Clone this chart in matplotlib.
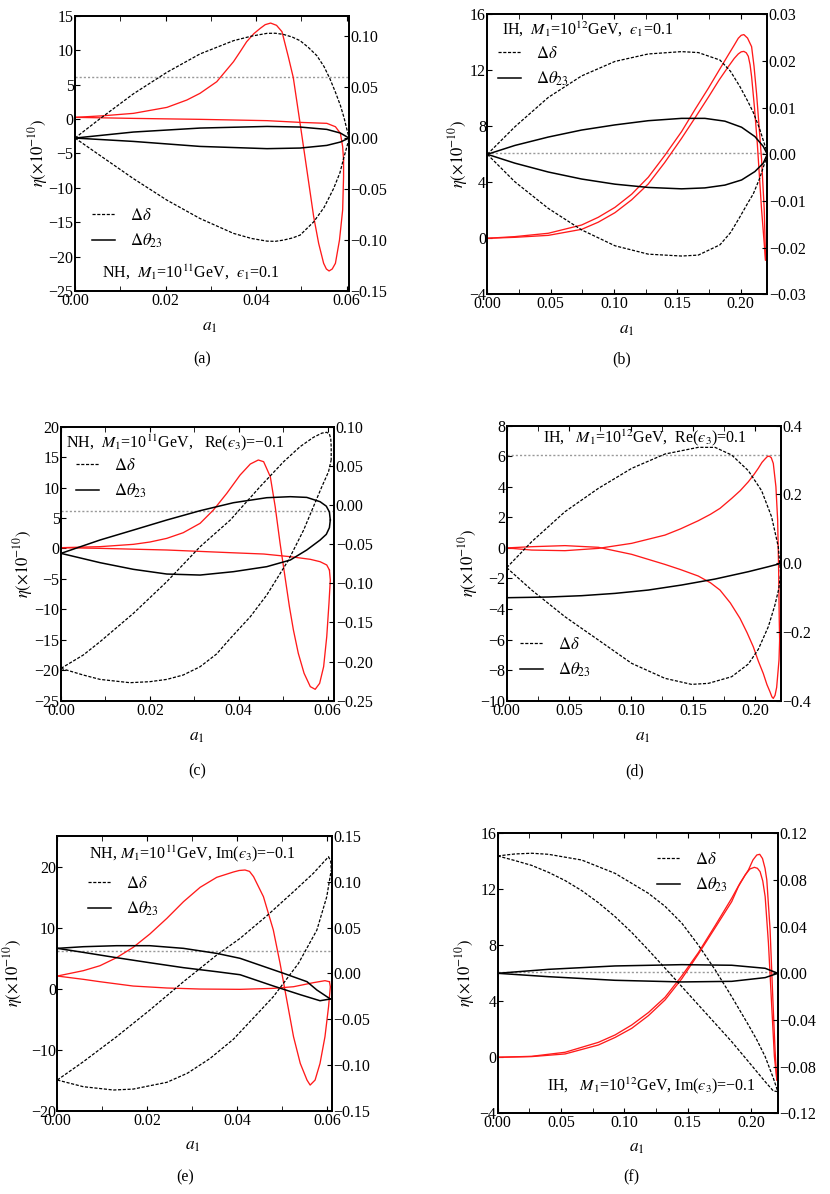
import matplotlib
matplotlib.use('Agg')
import matplotlib.pyplot as plt
from matplotlib.lines import Line2D
from matplotlib.ticker import MultipleLocator, FuncFormatter

plt.rcParams['font.family'] = ['Liberation Serif', 'DejaVu Serif']
plt.rcParams['mathtext.fontset'] = 'stix'

ETA_OBS = 6.1

# ---- (a) NH, M1=1e11 GeV, eps1=0.1 ----
a_red_up_x = [0, 0.0060, 0.0129, 0.0203, 0.0247, 0.0276, 0.0313, 0.0350, 0.0365, 0.0379, 0.0395, 0.0409, 0.0420,
              0.0432, 0.0445, 0.0457, 0.0471, 0.0482, 0.0497, 0.0512, 0.0527, 0.0538, 0.0549, 0.0555, 0.0561,
              0.0568, 0.0575, 0.0584, 0.0591, 0.0593, 0.0593]
a_red_up_y = [0.23, 0.45, 0.81, 1.68, 2.75, 3.72, 5.41, 8.32, 9.8, 11.22, 12.4, 13.16, 13.7,
              13.93, 13.6, 12.68, 9.04, 6.0, -0.64, -7.42, -14.2, -18.08, -20.98, -21.8, -22.09,
              -21.8, -20.98, -17.59, -13.23, -8.39, -5.97]
a_red_lo_x = [0, 0.0129, 0.0276, 0.0424, 0.0497, 0.0556, 0.0575, 0.0586, 0.0591, 0.0593]
a_red_lo_y = [0.23, 0.08, -0.06, -0.25, -0.5, -0.64, -1.13, -2.09, -4.03, -5.97]
a_dd_up_x = [0, 0.0055, 0.0129, 0.0203, 0.0276, 0.0350, 0.0390, 0.0424, 0.0442, 0.0460, 0.0480, 0.0497, 0.0515,
             0.0534, 0.0550, 0.0563, 0.0575, 0.0586, 0.0594, 0.0600, 0.0603, 0.0605]
a_dd_up_y = [0, 0.0189, 0.0434, 0.0645, 0.0825, 0.0955, 0.1000, 0.1027, 0.1028, 0.1017, 0.0990, 0.0955, 0.0890,
             0.0808, 0.0700, 0.058, 0.0450, 0.032, 0.0200, 0.0091, 0.0040, 0]
a_dd_lo_x = [0, 0.0055, 0.0129, 0.0203, 0.0276, 0.0350, 0.0390, 0.0424, 0.0442, 0.0460, 0.0480, 0.0497, 0.0527,
             0.0550, 0.0571, 0.0585, 0.0593, 0.0600, 0.0604, 0.0605]
a_dd_lo_y = [0, -0.0170, -0.0398, -0.0609, -0.0789, -0.0935, -0.0985, -0.1011, -0.1013, -0.1001, -0.0980, -0.0952,
             -0.0822, -0.0680, -0.0495, -0.0340, -0.0202, -0.0090, -0.0023, 0]
a_th_x = [0, 0.0129, 0.0276, 0.0424, 0.0497, 0.0556, 0.0586, 0.0605]
a_th_up_y = [0, 0.0059, 0.0098, 0.0114, 0.0108, 0.0085, 0.0049, 0]
a_th_lo_y = [0, -0.0033, -0.0082, -0.0104, -0.0098, -0.0072, -0.0039, 0]

# ---- (b) IH, M1=1e12 GeV, eps1=0.1 ----
b_red1_x = [0, 0.0218, 0.0482, 0.0745, 0.0876, 0.1008, 0.1140, 0.1271, 0.1400, 0.1534, 0.1640, 0.1745, 0.1830,
            0.1903, 0.1950, 0.1982, 0.2005, 0.2026, 0.2055, 0.2087, 0.2106, 0.2126, 0.2146, 0.2166, 0.2187, 0.2197]
b_red1_y = [0, 0.12, 0.36, 0.95, 1.5, 2.21, 3.15, 4.36, 5.9, 7.62, 9.2, 10.71, 12.0,
            13.10, 13.8, 14.29, 14.5, 14.55, 14.3, 13.69, 12.3, 10.36, 8.0, 5.6, 2.02, -1.55]
b_red2_x = [0, 0.0218, 0.0482, 0.0745, 0.0876, 0.1008, 0.1140, 0.1271, 0.1400, 0.1534, 0.1640, 0.1745, 0.1830,
            0.1903, 0.1950, 0.1982, 0.2005, 0.2026, 0.2045, 0.2061, 0.2075, 0.2087, 0.2110, 0.2132, 0.2166, 0.2197]
b_red2_y = [0, 0.07, 0.21, 0.64, 1.15, 1.83, 2.75, 3.88, 5.4, 7.14, 8.6, 10.07, 11.3,
            12.26, 12.85, 13.17, 13.32, 13.35, 13.25, 13.0, 12.4, 11.55, 9.3, 6.79, 2.02, -1.55]
b_dd_x = [0, 0.0218, 0.0482, 0.0745, 0.1008, 0.1271, 0.1534, 0.1666, 0.1837, 0.1920, 0.1995, 0.2060, 0.2100,
          0.2150, 0.2179, 0.2200, 0.2211]
b_dd_up_y = [0, 0.0059, 0.0122, 0.0168, 0.0199, 0.0215, 0.0220, 0.0218, 0.0202, 0.0178, 0.0145, 0.0112, 0.0090,
             0.0055, 0.0030, 0.0012, 0]
b_dd_lo_y = [0, -0.0059, -0.0116, -0.0162, -0.0196, -0.0214, -0.0218, -0.0216, -0.0194, -0.0168, -0.0134, -0.0103,
             -0.0085, -0.0052, -0.0028, -0.0011, 0]
b_th_x = [0, 0.0218, 0.0482, 0.0745, 0.1008, 0.1271, 0.1534, 0.1718, 0.1876, 0.2008, 0.2113, 0.2179, 0.2211]
b_th_up_y = [0, 0.0019, 0.0037, 0.0052, 0.0063, 0.0072, 0.0077, 0.0077, 0.0071, 0.0058, 0.0038, 0.0017, 0]
b_th_lo_y = [0, -0.0019, -0.0038, -0.0053, -0.0064, -0.0071, -0.0074, -0.0072, -0.0066, -0.0055, -0.0037, -0.0019, 0]

# ---- (c) NH, M1=1e11 GeV, Re(eps3)=-0.1 ----
c_red_up_x = [0, 0.0088, 0.0163, 0.0200, 0.0238, 0.0275, 0.0313, 0.0343, 0.0373, 0.0403, 0.0426, 0.0444, 0.0456,
              0.0471, 0.0482, 0.0493, 0.0504, 0.0514, 0.0523, 0.0534, 0.0547, 0.0561, 0.0572, 0.0582, 0.0591,
              0.0598, 0.0603, 0.0606, 0.0604]
c_red_up_y = [0.13, 0.30, 0.68, 1.06, 1.66, 2.59, 4.13, 6.32, 9.05, 12.06, 13.87, 14.53, 14.25,
              11.79, 6.86, 0.84, -4.63, -9.56, -13.39, -17.22, -20.50, -22.69, -23.13, -22.15, -19.41,
              -14.48, -9.01, -5.18, -3.54]
c_red_lo_x = [0, 0.0088, 0.0238, 0.0381, 0.0456, 0.0516, 0.0561, 0.0583, 0.0598, 0.0604]
c_red_lo_y = [0.13, 0.02, -0.25, -0.69, -0.91, -1.35, -1.78, -2.17, -2.71, -3.54]
c_dd1_x = [0, 0.0050, 0.0088, 0.0163, 0.0238, 0.0313, 0.0381, 0.0448, 0.0501, 0.0538, 0.0568, 0.0587,
           0.0598, 0.0604, 0.0607, 0.0608, 0.0608]
c_dd1_y = [-0.2087, -0.1917, -0.1746, -0.1384, -0.0980, -0.0533, -0.0192, 0.0234, 0.0553, 0.0745, 0.0864, 0.0918,
           0.0928, 0.0905, 0.0850, 0.0745, 0.0574]
c_dd2_x = [0, 0.0050, 0.0088, 0.0155, 0.0200, 0.0238, 0.0275, 0.0313, 0.0350, 0.0381, 0.0426, 0.0463,
           0.0512, 0.0546, 0.0568, 0.0587, 0.0602, 0.0608]
c_dd2_y = [-0.2087, -0.2172, -0.2228, -0.2270, -0.2257, -0.2228, -0.2172, -0.2066, -0.1904, -0.1704, -0.1427, -0.1150,
           -0.0703, -0.0320, -0.0022, 0.0234, 0.0425, 0.0574]
c_th_x = [0, 0.0088, 0.0163, 0.0238, 0.0313, 0.0388, 0.0463, 0.0516, 0.0553, 0.0583, 0.0597, 0.0604, 0.0606]
c_th_up_y = [-0.0618, -0.0447, -0.0320, -0.0192, -0.0073, 0.0029, 0.0093, 0.0106, 0.0097, 0.0042, -0.0015, -0.0090,
             -0.0192]
c_th_lo_y = [-0.0618, -0.0737, -0.0822, -0.0882, -0.0895, -0.0852, -0.0788, -0.0703, -0.0575, -0.0448, -0.0375,
             -0.0290, -0.0192]

# ---- (d) IH, M1=1e12 GeV, Re(eps3)=0.1 ----
d_red1_x = [0, 0.0201, 0.0469, 0.0738, 0.1006, 0.1274, 0.1400, 0.1542, 0.1640, 0.1717, 0.1811, 0.1880, 0.1945,
            0.1990, 0.2025, 0.2055, 0.2079, 0.2098, 0.2114, 0.2130, 0.2146, 0.2167, 0.2181, 0.2189, 0.2194, 0.2197]
d_red1_y = [0, -0.14, -0.18, -0.03, 0.30, 0.84, 1.25, 1.78, 2.2, 2.59, 3.24, 3.75, 4.33,
            4.8, 5.21, 5.6, 5.82, 5.98, 6.01, 5.9, 5.53, 4.01, 1.83, -1.45, -4.72, -6.03]
d_red2_x = [0, 0.0201, 0.0469, 0.0738, 0.1006, 0.1274, 0.1400, 0.1542, 0.1640, 0.1717, 0.1800, 0.1878, 0.1935,
            0.1985, 0.2025, 0.2065, 0.2095, 0.2119, 0.2135, 0.2146, 0.2160, 0.2173, 0.2192, 0.2197]
d_red2_y = [0, 0.08, 0.15, 0.04, -0.42, -1.08, -1.42, -1.84, -2.28, -2.76, -3.6, -4.61, -5.55,
            -6.47, -7.4, -8.21, -8.95, -9.41, -9.75, -9.85, -9.65, -9.13, -7.34, -6.03]
d_dd_up_x = [0, 0.0201, 0.0469, 0.0738, 0.1006, 0.1274, 0.1542, 0.1677, 0.1811, 0.1945, 0.2052, 0.2132, 0.2186, 0.2205]
d_dd_up_y = [-0.0131, 0.0625, 0.1498, 0.2177, 0.2759, 0.3176, 0.3370, 0.3370, 0.3147, 0.2691, 0.2109, 0.1353, 0.0480,
             -0.0296]
d_dd_lo_x = [0, 0.0201, 0.0469, 0.0738, 0.1006, 0.1274, 0.1488, 0.1623, 0.1811, 0.1945, 0.2025, 0.2106, 0.2159,
             0.2191, 0.2205]
d_dd_lo_y = [-0.0131, -0.0781, -0.1557, -0.2235, -0.2914, -0.3350, -0.3525, -0.3496, -0.3302, -0.2933, -0.2507,
             -0.1847, -0.1217, -0.0732, -0.0296]
d_th_x = [0, 0.0335, 0.0604, 0.0872, 0.1140, 0.1408, 0.1677, 0.1945, 0.2106, 0.2208]
d_th_y = [-0.1004, -0.0984, -0.0945, -0.0878, -0.0781, -0.0635, -0.0461, -0.0247, -0.0102, -0.0005]

# ---- (e) NH, M1=1e11 GeV, Im(eps3)=-0.1 ----
e_red_up_x = [0, 0.0058, 0.0095, 0.0132, 0.0169, 0.0206, 0.0244, 0.0281, 0.0318, 0.0355, 0.0392, 0.0405, 0.0418,
              0.0428, 0.0437, 0.0459, 0.0481, 0.0496, 0.0511, 0.0526, 0.0541, 0.0556, 0.0563, 0.0574, 0.0585,
              0.0596, 0.0604, 0.0608, 0.0606]
e_red_up_y = [2.06, 2.94, 3.75, 5.07, 6.76, 8.94, 11.51, 14.24, 16.59, 18.23, 19.10, 19.35, 19.43,
              19.2, 18.34, 15.06, 9.60, 4.14, -1.87, -7.88, -12.25, -14.98, -15.80, -14.98, -12.25,
              -7.88, -2.96, 0.31, 1.13]
e_red_lo_x = [0, 0.0058, 0.0095, 0.0169, 0.0244, 0.0318, 0.0407, 0.0481, 0.0526, 0.0570, 0.0596, 0.0606]
e_red_lo_y = [2.06, 1.52, 1.13, 0.42, 0.10, -0.07, -0.12, 0.04, 0.31, 0.97, 1.30, 1.13]
e_dd1_x = [0, 0.0058, 0.0132, 0.0206, 0.0281, 0.0355, 0.0407, 0.0466, 0.0526, 0.0570, 0.0596, 0.0604, 0.0609, 0.0610]
e_dd1_y = [-0.1165, -0.0965, -0.0692, -0.0401, -0.0091, 0.0200, 0.0382, 0.0626, 0.0892, 0.1092, 0.1231, 0.1274,
           0.1220, 0.1129]
e_dd2_x = [0, 0.0058, 0.0125, 0.0169, 0.0244, 0.0290, 0.0340, 0.0392, 0.0440, 0.0481, 0.0537, 0.0578, 0.0600, 0.0610]
e_dd2_y = [-0.1165, -0.1238, -0.1274, -0.1264, -0.1190, -0.1090, -0.0930, -0.0720, -0.0470, -0.0255, 0.0109, 0.0473,
           0.0837, 0.1129]
e_th_up_x = [0, 0.0058, 0.0132, 0.0206, 0.0281, 0.0355, 0.0407, 0.0504, 0.0556, 0.0578, 0.0608]
e_th_up_y = [0.0273, 0.0291, 0.0302, 0.0302, 0.0273, 0.0218, 0.0164, 0.0000, -0.0091, -0.0182, -0.0280]
e_th_lo_x = [0, 0.0058, 0.0132, 0.0206, 0.0281, 0.0355, 0.0407, 0.0481, 0.0541, 0.0585, 0.0608]
e_th_lo_y = [0.0273, 0.0229, 0.0171, 0.0116, 0.0062, 0.0018, -0.0015, -0.0138, -0.0233, -0.0299, -0.0280]

# ---- (f) IH, M1=1e12 GeV, Im(eps3)=-0.1 ----
f_red1_x = [0, 0.0268, 0.0532, 0.0795, 0.0927, 0.1058, 0.1190, 0.1321, 0.1452, 0.1584, 0.1716, 0.1847, 0.1913,
            0.1979, 0.2015, 0.2045, 0.2068, 0.2090, 0.2110, 0.2124, 0.2150, 0.2171, 0.2189, 0.2203]
f_red1_y = [0, 0.07, 0.36, 1.07, 1.6, 2.31, 3.2, 4.29, 5.8, 7.48, 9.4, 11.36, 12.45,
            13.38, 14.1, 14.45, 14.5, 14.2, 13.5, 12.67, 9.10, 4.33, 0.52, -1.62]
f_red2_x = [0, 0.0268, 0.0532, 0.0795, 0.0927, 0.1058, 0.1190, 0.1321, 0.1452, 0.1584, 0.1716, 0.1847, 0.1900,
            0.1953, 0.1990, 0.2026, 0.2050, 0.2071, 0.2092, 0.2111, 0.2137, 0.2163, 0.2184, 0.2203]
f_red2_y = [0, 0.05, 0.24, 0.88, 1.42, 2.07, 2.98, 4.10, 5.6, 7.38, 9.25, 11.12, 12.2,
            13.02, 13.45, 13.57, 13.5, 13.26, 12.6, 11.48, 8.14, 3.62, 0.05, -1.62]
f_dd_up_x = [0, 0.0137, 0.0268, 0.0400, 0.0663, 0.0926, 0.1189, 0.1320, 0.1453, 0.1585, 0.1716, 0.1847, 0.1979,
             0.2045, 0.2111, 0.2176, 0.2211]
f_dd_up_y = [0.1006, 0.1023, 0.1029, 0.1020, 0.0971, 0.0857, 0.0686, 0.0575, 0.0430, 0.0240, 0.0030, -0.0200, -0.0443,
             -0.0570, -0.0714, -0.0900, -0.1014]
f_dd_lo_x = [0, 0.0137, 0.0268, 0.0400, 0.0532, 0.0663, 0.0795, 0.0926, 0.1058, 0.1189, 0.1320, 0.1453, 0.1585,
             0.1716, 0.1847, 0.1979, 0.2111, 0.2176, 0.2211]
f_dd_lo_y = [0.1006, 0.0966, 0.0925, 0.0866, 0.0795, 0.0709, 0.0605, 0.0486, 0.0350, 0.0200, 0.0045, -0.0114, -0.0272,
             -0.0429, -0.0586, -0.0757, -0.0929, -0.1009, -0.1014]
f_th_x = [0, 0.0400, 0.0926, 0.1453, 0.1847, 0.2111, 0.2211]
f_th_up_y = [0, 0.0034, 0.0063, 0.0074, 0.0069, 0.0043, 0]
f_th_lo_y = [0, -0.0029, -0.0060, -0.0074, -0.0069, -0.0037, 0]

W, H = 830, 1194
DASH = (0, (2.5, 1.3))
FS = 11.5
EPS = '\u03f5'  # lunate epsilon as in the original


def minus(fmt):
    return FuncFormatter(lambda v, p: (fmt % v).replace('-', '\u2212') if abs(v) > 1e-12
                         else (fmt % 0).replace('-', ''))


def fx(x):
    return x / W


def fy(y):
    return 1 - y / H


def draw_panel(fig, p):
    l, t, r, b = p['box']
    ax = fig.add_axes([fx(l), fy(b), (r - l) / W, (b - t) / H])
    ax2 = ax.twinx()

    ax.axhline(ETA_OBS, color='#999999', lw=1.0, ls=(0, (1.5, 1.5)))
    for x, y in p['red']:
        ax.plot(x, y, color='#ff1a1a', lw=0.95, solid_joinstyle='round')
    for x, y in p['dashed']:
        ax2.plot(x, y, color='black', lw=0.9, ls=DASH)
    for x, y in p['solid']:
        ax2.plot(x, y, color='black', lw=1.1, solid_joinstyle='round')

    ax.set_xlim(0, p['xmax'])
    ax.set_ylim(*p['ylim'])
    ax2.set_ylim(*p['y2lim'])
    ax.xaxis.set_major_locator(MultipleLocator(p['xstep']))
    ax.xaxis.set_minor_locator(MultipleLocator(p['xstep'] / 2))
    ax.yaxis.set_major_locator(MultipleLocator(p['ystep']))
    ax2.yaxis.set_major_locator(MultipleLocator(p['y2step']))
    ax.xaxis.set_major_formatter(minus('%.2f'))
    ax.yaxis.set_major_formatter(minus('%d'))
    ax2.yaxis.set_major_formatter(minus(p['y2fmt']))

    ax.tick_params(axis='x', which='both', direction='in', top=True, length=3.5, labelsize=FS, pad=1.5)
    ax.tick_params(axis='y', which='both', direction='in', right=False, length=3.5, labelsize=FS, pad=1)
    ax2.tick_params(axis='y', direction='in', length=3.5, labelsize=FS, pad=1)
    for a in (ax, ax2):
        for s in a.spines.values():
            s.set_linewidth(1.3)

    # axis titles, caption and the parameter note
    fig.text(fx(p['xlab'][0]), fy(p['xlab'][1]), r'$a_1$', ha='center', va='center', fontsize=12.5)
    fig.text(fx(p['ylab_x']), fy((t + b) / 2), r'$\eta(\times10^{-10})$', rotation=90,
             ha='center', va='center', fontsize=12)
    fig.text(fx(p['cap'][0]), fy(p['cap'][1]), p['capt'], ha='center', va='center', fontsize=11.5)
    fig.text(fx(p['note'][0]), fy(p['note'][1]), p['notet'], ha='left', va='center', fontsize=11.5)

    handles = [Line2D([], [], color='black', lw=0.9, ls=DASH), Line2D([], [], color='black', lw=1.1)]
    ax2.legend(handles, [r'$\Delta\delta$', r'$\Delta\theta_{23}$'], loc='upper left',
               bbox_to_anchor=(fx(p['leg'][0]), fy(p['leg'][1])), bbox_transform=fig.transFigure,
               frameon=False, borderpad=0, borderaxespad=0, handlelength=1.35, handletextpad=0.95,
               labelspacing=0.45, fontsize=12)


panels = [
    dict(box=(75, 15.7, 349, 291), xmax=0.0605, xstep=0.02, ylim=(-25, 15), ystep=5,
         y2lim=(-0.15, 0.12), y2step=0.05, y2fmt='%.2f',
         red=[(a_red_up_x, a_red_up_y), (a_red_lo_x, a_red_lo_y)],
         dashed=[(a_dd_up_x, a_dd_up_y), (a_dd_lo_x, a_dd_lo_y)],
         solid=[(a_th_x, a_th_up_y), (a_th_x, a_th_lo_y)],
         xlab=(210, 327), ylab_x=38, cap=(202, 359), capt='(a)',
         note=(102, 272), notet='NH,  $M_1$=10$^{11}$GeV,  $' + EPS + '_1$=0.1', leg=(92, 208)),
    dict(box=(487.3, 14.3, 767.3, 294.3), xmax=0.2211, xstep=0.05, ylim=(-4, 16), ystep=4,
         y2lim=(-0.03, 0.03), y2step=0.01, y2fmt='%.2f',
         red=[(b_red1_x, b_red1_y), (b_red2_x, b_red2_y)],
         dashed=[(b_dd_x, b_dd_up_y), (b_dd_x, b_dd_lo_y)],
         solid=[(b_th_x, b_th_up_y), (b_th_x, b_th_lo_y)],
         xlab=(627, 330), ylab_x=458, cap=(622, 359), capt='(b)',
         note=(502, 29), notet='IH,  $M_1$=10$^{12}$GeV,  $' + EPS + '_1$=0.1', leg=(498, 46)),
    dict(box=(61, 426.7, 334.3, 700.7), xmax=0.0615, xstep=0.02, ylim=(-25, 20), ystep=5,
         y2lim=(-0.25, 0.10), y2step=0.05, y2fmt='%.2f',
         red=[(c_red_up_x, c_red_up_y), (c_red_lo_x, c_red_lo_y)],
         dashed=[(c_dd1_x, c_dd1_y), (c_dd2_x, c_dd2_y)],
         solid=[(c_th_x, c_th_up_y), (c_th_x, c_th_lo_y)],
         xlab=(197, 737), ylab_x=23, cap=(197, 771), capt='(c)',
         note=(66, 443), notet='NH,  $M_1$=10$^{11}$GeV,   Re($' + EPS + '_3$)=\u22120.1', leg=(76, 458)),
    dict(box=(506.7, 425.7, 781, 700.7), xmax=0.2208, xstep=0.05, ylim=(-10, 8), ystep=2,
         y2lim=(-0.4, 0.4), y2step=0.2, y2fmt='%.1f',
         red=[(d_red1_x, d_red1_y), (d_red2_x, d_red2_y)],
         dashed=[(d_dd_up_x, d_dd_up_y), (d_dd_lo_x, d_dd_lo_y)],
         solid=[(d_th_x, d_th_y)],
         xlab=(643, 737), ylab_x=468, cap=(635, 771), capt='(d)',
         note=(543, 438), notet='IH,   $M_1$=10$^{12}$GeV,  Re($' + EPS + '_3$)=0.1', leg=(520, 637)),
    dict(box=(57.3, 836, 331.7, 1110.7), xmax=0.0611, xstep=0.02, ylim=(-20, 25), ystep=10,
         y2lim=(-0.15, 0.15), y2step=0.05, y2fmt='%.2f',
         red=[(e_red_up_x, e_red_up_y), (e_red_lo_x, e_red_lo_y)],
         dashed=[(e_dd1_x, e_dd1_y), (e_dd2_x, e_dd2_y)],
         solid=[(e_th_up_x, e_th_up_y), (e_th_lo_x, e_th_lo_y)],
         xlab=(193, 1146), ylab_x=13, cap=(185, 1177), capt='(e)',
         note=(89, 854), notet='NH, $M_1$=10$^{11}$GeV, Im($' + EPS + '_3$)=\u22120.1', leg=(88, 876)),
    dict(box=(497.7, 833.3, 777.7, 1113.3), xmax=0.221, xstep=0.05, ylim=(-4, 16), ystep=4,
         y2lim=(-0.12, 0.12), y2step=0.04, y2fmt='%.2f',
         red=[(f_red1_x, f_red1_y), (f_red2_x, f_red2_y)],
         dashed=[(f_dd_up_x, f_dd_up_y), (f_dd_lo_x, f_dd_lo_y)],
         solid=[(f_th_x, f_th_up_y), (f_th_x, f_th_lo_y)],
         xlab=(637, 1148), ylab_x=465, cap=(631, 1177), capt='(f)',
         note=(547, 1086), notet='IH,   $M_1$=10$^{12}$GeV, Im($' + EPS + '_3$)=\u22120.1', leg=(657, 852)),
]


def main():
    fig = plt.figure(figsize=(W / 100, H / 100), dpi=100)
    for p in panels:
        draw_panel(fig, p)
    fig.savefig('out.png', dpi=100)


if __name__ == '__main__':
    main()
